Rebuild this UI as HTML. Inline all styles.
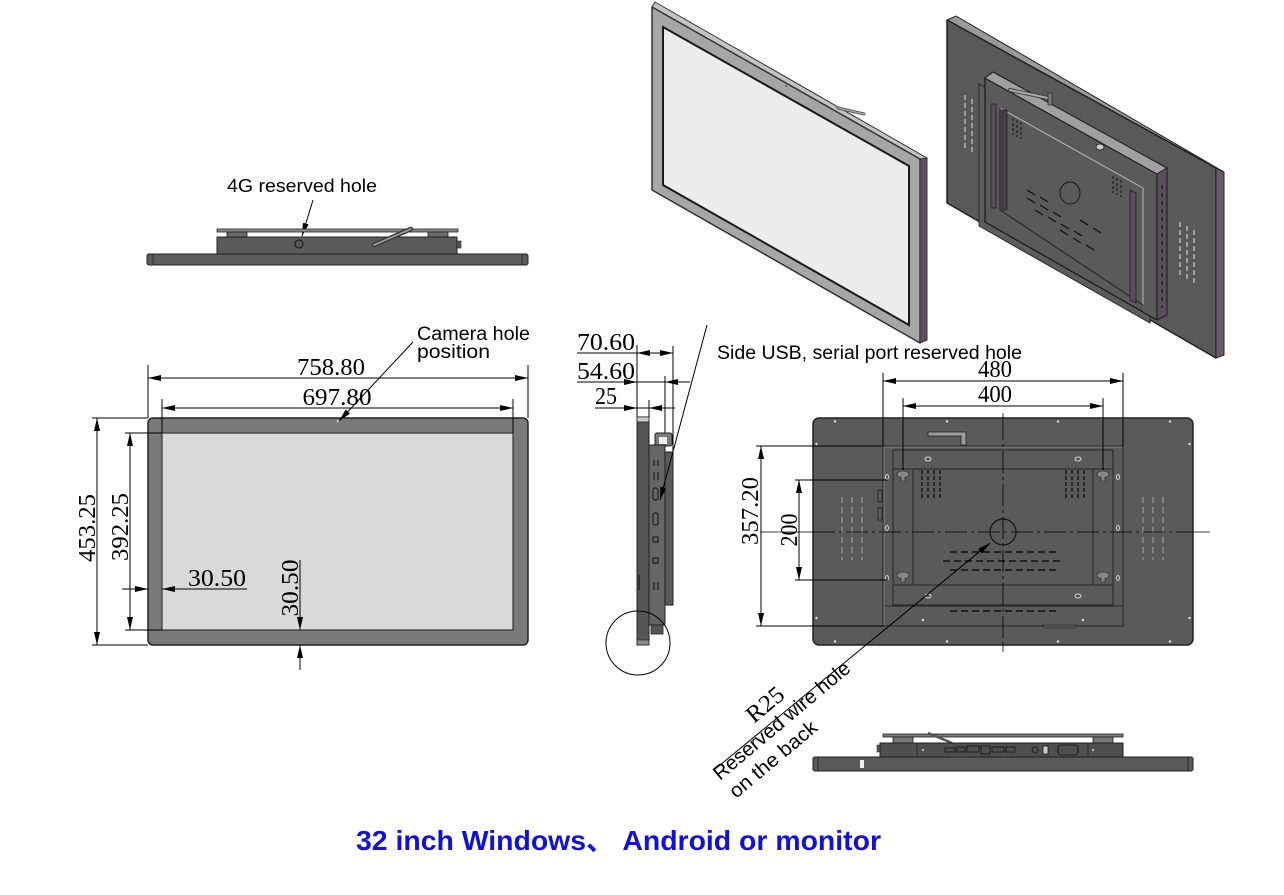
<!DOCTYPE html>
<html><head><meta charset="utf-8"><style>
html,body{margin:0;padding:0;background:#fff;}
svg{display:block;}
.s{font-family:"Liberation Sans","Noto Sans CJK SC",sans-serif;fill:#000;}
.d{font-family:"Liberation Serif",serif;font-size:24px;fill:#000;}
</style></head><body>
<svg width="1284" height="895" viewBox="0 0 1284 895" xmlns="http://www.w3.org/2000/svg">
<defs>
<marker id="a" viewBox="0 0 13 6" refX="13" refY="3" markerWidth="13" markerHeight="6" markerUnits="userSpaceOnUse" orient="auto-start-reverse"><path d="M0,0 L13,3 L0,6 z" fill="#000"/></marker>
</defs>

<!-- ===== Isometric front ===== -->
<polygon points="655,2 927,158 922,161 652,7" fill="#c4c4c4" stroke="#333" stroke-width="1"/>
<polygon points="652,7 920,159 920,343 652,190" fill="#a6a6a6" stroke="#333" stroke-width="1.5" stroke-linejoin="round"/>
<polygon points="920,159 927,158 927,340 920,343" fill="#5e4f60" stroke="#333" stroke-width="1"/>
<polygon points="663,27 909,166 909,325 663,185" fill="#ececec" stroke="#1a1a1a" stroke-width="2"/>
<line x1="838" y1="108" x2="864" y2="114" stroke="#555" stroke-width="3" stroke-linecap="round"/>
<line x1="838" y1="108" x2="864" y2="114" stroke="#aaa" stroke-width="1.4" stroke-linecap="round"/>
<circle cx="786" cy="86" r="1" fill="#555"/>

<!-- ===== Isometric back ===== -->
<polygon points="947,20 956,16 1224,172 1216,168" fill="#9a9a9a" stroke="#222" stroke-width="1"/>
<polygon points="947,20 1216,168 1216,358 947,203" fill="#595959" stroke="#222" stroke-width="1.5" stroke-linejoin="round"/>
<polygon points="1216,168 1224,172 1224,355 1216,358" fill="#6b5a6b" stroke="#222" stroke-width="1"/>
<g stroke="#ccc" stroke-width="1.2" stroke-dasharray="5,3">
<line x1="965" y1="95" x2="965" y2="150"/><line x1="972" y1="99" x2="972" y2="154"/><line x1="979" y1="103" x2="979" y2="158"/>
<line x1="1180" y1="222" x2="1180" y2="277"/><line x1="1187" y1="226" x2="1187" y2="281"/><line x1="1194" y1="230" x2="1194" y2="285"/>
</g>
<polygon points="979,84 1150,180 1150,323 979,226" fill="#5d5d5d" stroke="#2a2a2a" stroke-width="1"/>
<polygon points="985,78 1157,174 1157,320 985,222" fill="#5a5a5a" stroke="#1a1a1a" stroke-width="1.2"/>
<polygon points="985,78 993,72 1167,168 1157,174" fill="#a0a0a0" stroke="#1a1a1a" stroke-width="1"/>
<polygon points="1157,174 1167,168 1167,315 1157,320" fill="#5a4d5c" stroke="#1a1a1a" stroke-width="1"/>
<g stroke="#222" stroke-width="1.4" stroke-dasharray="4,4"><line x1="1162" y1="185" x2="1162" y2="308"/></g>
<polyline points="1000,108 1143,188 1143,305" fill="none" stroke="#bbb" stroke-width="1"/>
<polyline points="1000,108 1000,210 1143,305" fill="none" stroke="#222" stroke-width="1"/>
<rect x="991" y="104" width="5" height="104" fill="#5a4d5c" stroke="#222" stroke-width="0.8"/>
<rect x="1002" y="110" width="5" height="100" fill="#4a404b" stroke="#222" stroke-width="0.8"/>
<polygon points="1130,190 1136,193 1136,303 1130,300" fill="#5a4d5c" stroke="#222" stroke-width="0.8"/>
<ellipse cx="1070" cy="193" rx="10" ry="11" fill="none" stroke="#1a1a1a" stroke-width="1"/>
<g stroke="#111" stroke-width="1.3">
<line x1="1027" y1="190" x2="1035" y2="195"/><line x1="1040" y1="197" x2="1048" y2="202"/>
<line x1="1027" y1="198" x2="1035" y2="203"/><line x1="1040" y1="205" x2="1048" y2="210"/><line x1="1053" y1="212" x2="1061" y2="217"/>
<line x1="1035" y1="210" x2="1043" y2="215"/><line x1="1048" y1="217" x2="1056" y2="222"/><line x1="1061" y1="224" x2="1069" y2="229"/><line x1="1074" y1="231" x2="1082" y2="236"/>
<line x1="1060" y1="230" x2="1068" y2="235"/><line x1="1073" y1="238" x2="1081" y2="243"/><line x1="1086" y1="245" x2="1094" y2="250"/>
<line x1="1080" y1="220" x2="1088" y2="225"/><line x1="1093" y1="228" x2="1101" y2="233"/>
</g>
<g stroke="#111" stroke-width="1" stroke-dasharray="3,2">
<line x1="1013" y1="118" x2="1013" y2="135"/><line x1="1017" y1="120" x2="1017" y2="137"/><line x1="1021" y1="122" x2="1021" y2="139"/>
<line x1="1113" y1="176" x2="1113" y2="193"/><line x1="1117" y1="178" x2="1117" y2="195"/><line x1="1121" y1="180" x2="1121" y2="197"/>
</g>
<line x1="1010" y1="90" x2="1048" y2="98" stroke="#444" stroke-width="4" stroke-linecap="round"/>
<line x1="1010" y1="90" x2="1048" y2="98" stroke="#aaa" stroke-width="2" stroke-linecap="round"/>
<rect x="1048" y="93" width="4" height="12" fill="#777" stroke="#222" stroke-width="0.6"/>
<ellipse cx="1100" cy="147" rx="4" ry="3" fill="#ccc" stroke="#222" stroke-width="0.8"/>

<!-- ===== Top view ===== -->
<text class="s" x="227" y="192" font-size="18" textLength="150" lengthAdjust="spacingAndGlyphs">4G reserved hole</text>
<line x1="313" y1="200" x2="302" y2="236" stroke="#000" stroke-width="1" marker-end="url(#a)"/>
<rect x="217" y="229" width="241" height="3" fill="#8a8a8a" stroke="#222" stroke-width="0.8"/>
<rect x="227" y="232" width="20" height="5" fill="#6a6a6a" stroke="#222" stroke-width="0.8"/>
<rect x="428" y="232" width="20" height="5" fill="#6a6a6a" stroke="#222" stroke-width="0.8"/>
<rect x="217" y="237" width="240" height="17" fill="#5a5a5a" stroke="#222" stroke-width="1"/>
<rect x="457" y="241" width="4" height="7" fill="#555" stroke="#222" stroke-width="0.6"/>
<circle cx="299" cy="244" r="4" fill="none" stroke="#111" stroke-width="1"/>
<line x1="374" y1="245" x2="411" y2="229" stroke="#333" stroke-width="4.5" stroke-linecap="round"/>
<line x1="374" y1="245" x2="411" y2="229" stroke="#999" stroke-width="2" stroke-linecap="round"/>
<rect x="147" y="254" width="381" height="11" rx="2" fill="#5d5d5d" stroke="#222" stroke-width="1"/>
<line x1="153" y1="254" x2="153" y2="265" stroke="#222" stroke-width="0.8"/>
<line x1="522" y1="254" x2="522" y2="265" stroke="#222" stroke-width="0.8"/>

<!-- ===== Front view ===== -->
<text class="s" x="417" y="340" font-size="19" textLength="113" lengthAdjust="spacingAndGlyphs">Camera hole</text>
<text class="s" x="417" y="358" font-size="19" textLength="73" lengthAdjust="spacingAndGlyphs">position</text>
<rect x="148" y="418" width="380" height="227" rx="5" fill="#7a7a7a" stroke="#222" stroke-width="1.5"/>
<rect x="162" y="433" width="351" height="197" fill="#d9d9d9" stroke="#333" stroke-width="1.2"/>
<circle cx="338" cy="421" r="1.3" fill="#ccc"/>
<line x1="413" y1="342" x2="339" y2="421" stroke="#000" stroke-width="1" marker-end="url(#a)"/>
<g stroke="#000" stroke-width="1" fill="none">
<line x1="148" y1="365" x2="148" y2="418"/><line x1="528" y1="365" x2="528" y2="418"/>
<line x1="148" y1="378" x2="528" y2="378" marker-start="url(#a)" marker-end="url(#a)"/>
<line x1="162" y1="399" x2="162" y2="433"/><line x1="513" y1="399" x2="513" y2="433"/>
<line x1="162" y1="408" x2="513" y2="408" marker-start="url(#a)" marker-end="url(#a)"/>
<line x1="92" y1="418" x2="148" y2="418"/><line x1="92" y1="645" x2="148" y2="645"/>
<line x1="97" y1="418" x2="97" y2="645" marker-start="url(#a)" marker-end="url(#a)"/>
<line x1="125" y1="433" x2="162" y2="433"/><line x1="125" y1="630" x2="162" y2="630"/>
<line x1="130" y1="433" x2="130" y2="630" marker-start="url(#a)" marker-end="url(#a)"/>
<line x1="122" y1="589" x2="148" y2="589" marker-end="url(#a)"/>
<line x1="247" y1="589" x2="162" y2="589" marker-end="url(#a)"/>
<line x1="300" y1="560" x2="300" y2="630" marker-end="url(#a)"/>
<line x1="300" y1="670" x2="300" y2="645" marker-end="url(#a)"/>
</g>
<text class="d" x="331" y="375" text-anchor="middle" textLength="68" lengthAdjust="spacingAndGlyphs">758.80</text>
<text class="d" x="337" y="405" text-anchor="middle" textLength="69" lengthAdjust="spacingAndGlyphs">697.80</text>
<text class="d" transform="translate(95,528) rotate(-90)" text-anchor="middle" textLength="68" lengthAdjust="spacingAndGlyphs">453.25</text>
<text class="d" transform="translate(128,527) rotate(-90)" text-anchor="middle" textLength="68" lengthAdjust="spacingAndGlyphs">392.25</text>
<text class="d" x="188" y="586" textLength="58" lengthAdjust="spacingAndGlyphs">30.50</text>
<text class="d" transform="translate(298,588) rotate(-90)" text-anchor="middle" textLength="57" lengthAdjust="spacingAndGlyphs">30.50</text>

<!-- ===== Side view ===== -->
<g stroke="#000" stroke-width="1" fill="none">
<line x1="637" y1="345" x2="637" y2="417"/>
<line x1="649" y1="400" x2="649" y2="417"/>
<line x1="665" y1="376" x2="665" y2="445"/>
<line x1="673" y1="346" x2="673" y2="452"/>
<line x1="577" y1="353" x2="673" y2="353"/>
<line x1="655" y1="353" x2="637" y2="353" marker-end="url(#a)"/>
<line x1="655" y1="353" x2="673" y2="353" marker-end="url(#a)"/>
<line x1="577" y1="382" x2="690" y2="382"/>
<line x1="620" y1="382" x2="637" y2="382" marker-end="url(#a)"/>
<line x1="682" y1="382" x2="665" y2="382" marker-end="url(#a)"/>
<line x1="595" y1="408" x2="675" y2="408"/>
<line x1="620" y1="408" x2="637" y2="408" marker-end="url(#a)"/>
<line x1="665" y1="408" x2="649" y2="408" marker-end="url(#a)"/>
</g>
<text class="d" x="577" y="350" textLength="58" lengthAdjust="spacingAndGlyphs">70.60</text>
<text class="d" x="577" y="379" textLength="58" lengthAdjust="spacingAndGlyphs">54.60</text>
<text class="d" x="595" y="404" textLength="22" lengthAdjust="spacingAndGlyphs">25</text>
<rect x="655" y="433" width="17" height="13" rx="2" fill="#7a7a7a" stroke="#222" stroke-width="1"/>
<rect x="659" y="437" width="8" height="7" fill="#eee"/>
<rect x="637" y="417" width="12" height="228" fill="#555" stroke="#222" stroke-width="1"/>
<rect x="637" y="417" width="12" height="5" fill="#ccc" stroke="#222" stroke-width="0.8"/>
<rect x="637" y="640" width="12" height="5" fill="#888" stroke="#222" stroke-width="0.6"/>
<rect x="649" y="445" width="16" height="180" fill="#666" stroke="#222" stroke-width="1"/>
<rect x="665" y="452" width="8" height="153" fill="#5a5a5a" stroke="#222" stroke-width="1"/>
<rect x="651" y="625" width="12" height="9" fill="#555" stroke="#222" stroke-width="0.8"/>
<g stroke="#111" stroke-width="1" fill="none">
<line x1="654" y1="460" x2="654" y2="466"/><line x1="658" y1="460" x2="658" y2="466"/>
<line x1="654" y1="472" x2="654" y2="480"/><line x1="658" y1="472" x2="658" y2="480"/>
<rect x="653" y="488" width="5" height="12" rx="2"/>
<rect x="653" y="513" width="5" height="12" rx="2"/>
<rect x="653" y="537" width="5" height="5"/>
<rect x="653" y="558" width="5" height="5"/>
<line x1="654" y1="582" x2="654" y2="590"/><line x1="658" y1="582" x2="658" y2="590"/>
<line x1="639" y1="590" x2="639" y2="575"/>
</g>
<circle cx="638" cy="643" r="32" fill="none" stroke="#000" stroke-width="1"/>
<line x1="707" y1="325" x2="660" y2="500" stroke="#000" stroke-width="1" marker-end="url(#a)"/>
<text class="s" x="717" y="359" font-size="19" textLength="305" lengthAdjust="spacingAndGlyphs">Side USB, serial port reserved hole</text>

<!-- ===== Back view ===== -->
<rect x="813" y="418" width="380" height="227" rx="6" fill="#5a5a5a" stroke="#222" stroke-width="1.5"/>
<g fill="#ddd">
<circle cx="835" cy="421.5" r="1.2"/><circle cx="947" cy="421.5" r="1.2"/><circle cx="1058" cy="421.5" r="1.2"/><circle cx="1170" cy="421.5" r="1.2"/>
<circle cx="835" cy="641.5" r="1.2"/><circle cx="947" cy="641.5" r="1.2"/><circle cx="1058" cy="641.5" r="1.2"/><circle cx="1170" cy="641.5" r="1.2"/>
<circle cx="816.5" cy="444" r="1.2"/><circle cx="816.5" cy="618" r="1.2"/><circle cx="1189.5" cy="444" r="1.2"/><circle cx="1189.5" cy="618" r="1.2"/>
<circle cx="923" cy="620" r="1.2"/><circle cx="1083" cy="620" r="1.2"/>
</g>
<g fill="none" stroke="#262626" stroke-width="1">
<rect x="883" y="446" width="240" height="180"/>
<rect x="883" y="446" width="240" height="160"/>
<rect x="893" y="450" width="220" height="155"/>
<rect x="913" y="469" width="180" height="116"/>
<line x1="893" y1="469" x2="1113" y2="469"/>
<line x1="893" y1="585" x2="1113" y2="585"/>
</g>
<g fill="none" stroke="#8a8a8a" stroke-width="0.8">
<line x1="884" y1="447" x2="1122" y2="447"/>
<line x1="884" y1="447" x2="884" y2="625"/>
</g>
<path d="M928,432 h38 v13 h-5 v-9 h-33 z" fill="#9a9a9a" stroke="#222" stroke-width="0.8"/>
<g fill="none" stroke="#cfcfcf" stroke-width="1">
<ellipse cx="928" cy="459" rx="3" ry="2"/><ellipse cx="1078" cy="459" rx="3" ry="2"/>
<ellipse cx="887" cy="477" rx="1.5" ry="2.5"/><ellipse cx="1118" cy="477" rx="1.5" ry="2.5"/>
<ellipse cx="887" cy="528" rx="1.5" ry="2.5"/><ellipse cx="1118" cy="528" rx="1.5" ry="2.5"/>
<ellipse cx="887" cy="578" rx="1.5" ry="2.5"/><ellipse cx="1118" cy="578" rx="1.5" ry="2.5"/>
<ellipse cx="928" cy="596" rx="3" ry="2"/><ellipse cx="1078" cy="596" rx="3" ry="2"/>
</g>
<g fill="#888" stroke="#222" stroke-width="0.6">
<path d="M897,474 a6,3 0 0 1 12,0 a3,3 0 0 1 -4,3 v4 h-4 v-4 a3,3 0 0 1 -4,-3z"/>
<path d="M1097,474 a6,3 0 0 1 12,0 a3,3 0 0 1 -4,3 v4 h-4 v-4 a3,3 0 0 1 -4,-3z"/>
<path d="M897,575 a6,3 0 0 1 12,0 a3,3 0 0 1 -4,3 v4 h-4 v-4 a3,3 0 0 1 -4,-3z"/>
<path d="M1097,575 a6,3 0 0 1 12,0 a3,3 0 0 1 -4,3 v4 h-4 v-4 a3,3 0 0 1 -4,-3z"/>
</g>
<g stroke="#111" stroke-width="1.3" stroke-dasharray="4,2">
<line x1="922" y1="470" x2="922" y2="500"/><line x1="928" y1="470" x2="928" y2="500"/><line x1="934" y1="470" x2="934" y2="500"/><line x1="940" y1="470" x2="940" y2="500"/>
<line x1="1066" y1="470" x2="1066" y2="500"/><line x1="1072" y1="470" x2="1072" y2="500"/><line x1="1078" y1="470" x2="1078" y2="500"/><line x1="1084" y1="470" x2="1084" y2="500"/>
</g>
<g stroke="#111" stroke-width="1.5" stroke-dasharray="7,4">
<line x1="950" y1="552" x2="1056" y2="552"/>
<line x1="943" y1="561" x2="1062" y2="561"/>
<line x1="950" y1="570" x2="1056" y2="570"/>
<line x1="950" y1="611" x2="1056" y2="611"/>
</g>
<g stroke="#9a9a9a" stroke-width="1.2" stroke-dasharray="6,4">
<line x1="842" y1="497" x2="842" y2="560"/><line x1="852" y1="497" x2="852" y2="560"/><line x1="862" y1="497" x2="862" y2="560"/>
<line x1="1143" y1="497" x2="1143" y2="560"/><line x1="1153" y1="497" x2="1153" y2="560"/><line x1="1163" y1="497" x2="1163" y2="560"/>
</g>
<g fill="none" stroke="#222" stroke-width="0.8">
<rect x="878" y="490" width="4" height="12"/><rect x="878" y="508" width="4" height="12"/>
</g>
<path d="M1042,625 h35 l-3,3 h-29 z" fill="#555" stroke="#222" stroke-width="0.6"/>
<g stroke="#000" stroke-width="0.8" fill="none">
<line x1="760" y1="532" x2="813" y2="532"/>
<line x1="1193" y1="532" x2="1210" y2="532"/>
<line x1="813" y1="532" x2="1193" y2="532" stroke-dasharray="22,4,3,4"/>
<line x1="1003" y1="413" x2="1003" y2="418"/>
<line x1="1003" y1="645" x2="1003" y2="652"/>
<line x1="1003" y1="418" x2="1003" y2="645" stroke-dasharray="22,4,3,4"/>
</g>
<circle cx="1003" cy="532" r="13" fill="none" stroke="#111" stroke-width="1.2"/>
<g stroke="#000" stroke-width="1" fill="none">
<line x1="883" y1="373" x2="883" y2="446"/><line x1="1123" y1="373" x2="1123" y2="446"/>
<line x1="883" y1="381" x2="1123" y2="381" marker-start="url(#a)" marker-end="url(#a)"/>
<line x1="903" y1="398" x2="903" y2="470"/><line x1="1103" y1="398" x2="1103" y2="470"/>
<line x1="903" y1="406" x2="1103" y2="406" marker-start="url(#a)" marker-end="url(#a)"/>
<line x1="756" y1="446" x2="883" y2="446"/><line x1="756" y1="626" x2="883" y2="626"/>
<line x1="761" y1="446" x2="761" y2="626" marker-start="url(#a)" marker-end="url(#a)"/>
<line x1="795" y1="480" x2="888" y2="480"/><line x1="795" y1="580" x2="888" y2="580"/>
<line x1="799" y1="480" x2="799" y2="580" marker-start="url(#a)" marker-end="url(#a)"/>
</g>
<text class="d" x="995" y="377" text-anchor="middle" textLength="34" lengthAdjust="spacingAndGlyphs">480</text>
<text class="d" x="995" y="402" text-anchor="middle" textLength="34" lengthAdjust="spacingAndGlyphs">400</text>
<text class="d" transform="translate(758,511) rotate(-90)" text-anchor="middle" textLength="68" lengthAdjust="spacingAndGlyphs">357.20</text>
<text class="d" transform="translate(797,530) rotate(-90)" text-anchor="middle" textLength="33" lengthAdjust="spacingAndGlyphs">200</text>

<!-- leader R25 -->
<line x1="714" y1="770" x2="990" y2="543" stroke="#000" stroke-width="1" marker-end="url(#a)"/>
<text class="d" transform="translate(754,724) rotate(-40)" font-size="22" textLength="42" lengthAdjust="spacingAndGlyphs">R25</text>
<text class="s" transform="translate(720,781) rotate(-40)" font-size="20" textLength="172" lengthAdjust="spacingAndGlyphs">Reserved wire hole</text>
<text class="s" transform="translate(736,799) rotate(-40)" font-size="20" textLength="108" lengthAdjust="spacingAndGlyphs">on the back</text>

<!-- ===== Bottom view ===== -->
<rect x="883" y="734" width="240" height="3" fill="#7a7a7a" stroke="#222" stroke-width="0.8"/>
<rect x="893" y="737" width="20" height="6" fill="#777" stroke="#222" stroke-width="0.8"/>
<rect x="1093" y="737" width="20" height="6" fill="#777" stroke="#222" stroke-width="0.8"/>
<line x1="928" y1="733" x2="952" y2="743" stroke="#555" stroke-width="2.5"/>
<rect x="880" y="743" width="243" height="14" fill="#4f4f4f" stroke="#222" stroke-width="1"/>
<rect x="877" y="745" width="3" height="7" fill="#555" stroke="#222" stroke-width="0.5"/>
<line x1="917" y1="743" x2="917" y2="757" stroke="#222" stroke-width="0.8"/>
<line x1="1088" y1="743" x2="1088" y2="757" stroke="#222" stroke-width="0.8"/>
<g fill="none" stroke="#111" stroke-width="0.8">
<rect x="945" y="748" width="10" height="4"/><rect x="957" y="747" width="8" height="5"/><rect x="967" y="746" width="12" height="6"/>
<rect x="981" y="746" width="9" height="8"/><rect x="992" y="747" width="12" height="5"/><rect x="1006" y="747" width="9" height="5"/>
<circle cx="1035" cy="750" r="3"/>
</g>
<rect x="1043" y="746" width="5" height="8" fill="#ccc" stroke="#111" stroke-width="0.8"/>
<rect x="1058" y="745" width="20" height="10" rx="3" fill="none" stroke="#111" stroke-width="0.8"/>
<circle cx="923" cy="750" r="1" fill="#ddd"/><circle cx="1093" cy="750" r="1" fill="#ddd"/>
<rect x="813" y="757" width="380" height="14" rx="2" fill="#595959" stroke="#222" stroke-width="1"/>
<rect x="860" y="760" width="4" height="8" fill="#eee"/>
<line x1="818" y1="757" x2="818" y2="771" stroke="#222" stroke-width="0.8"/>
<line x1="1188" y1="757" x2="1188" y2="771" stroke="#222" stroke-width="0.8"/>

<!-- ===== Title ===== -->
<text class="s" x="356" y="850" font-size="28" font-weight="bold" style="fill:#1010e0" textLength="525" lengthAdjust="spacingAndGlyphs">32 inch Windows、 Android or monitor</text>
</svg>
</body></html>
